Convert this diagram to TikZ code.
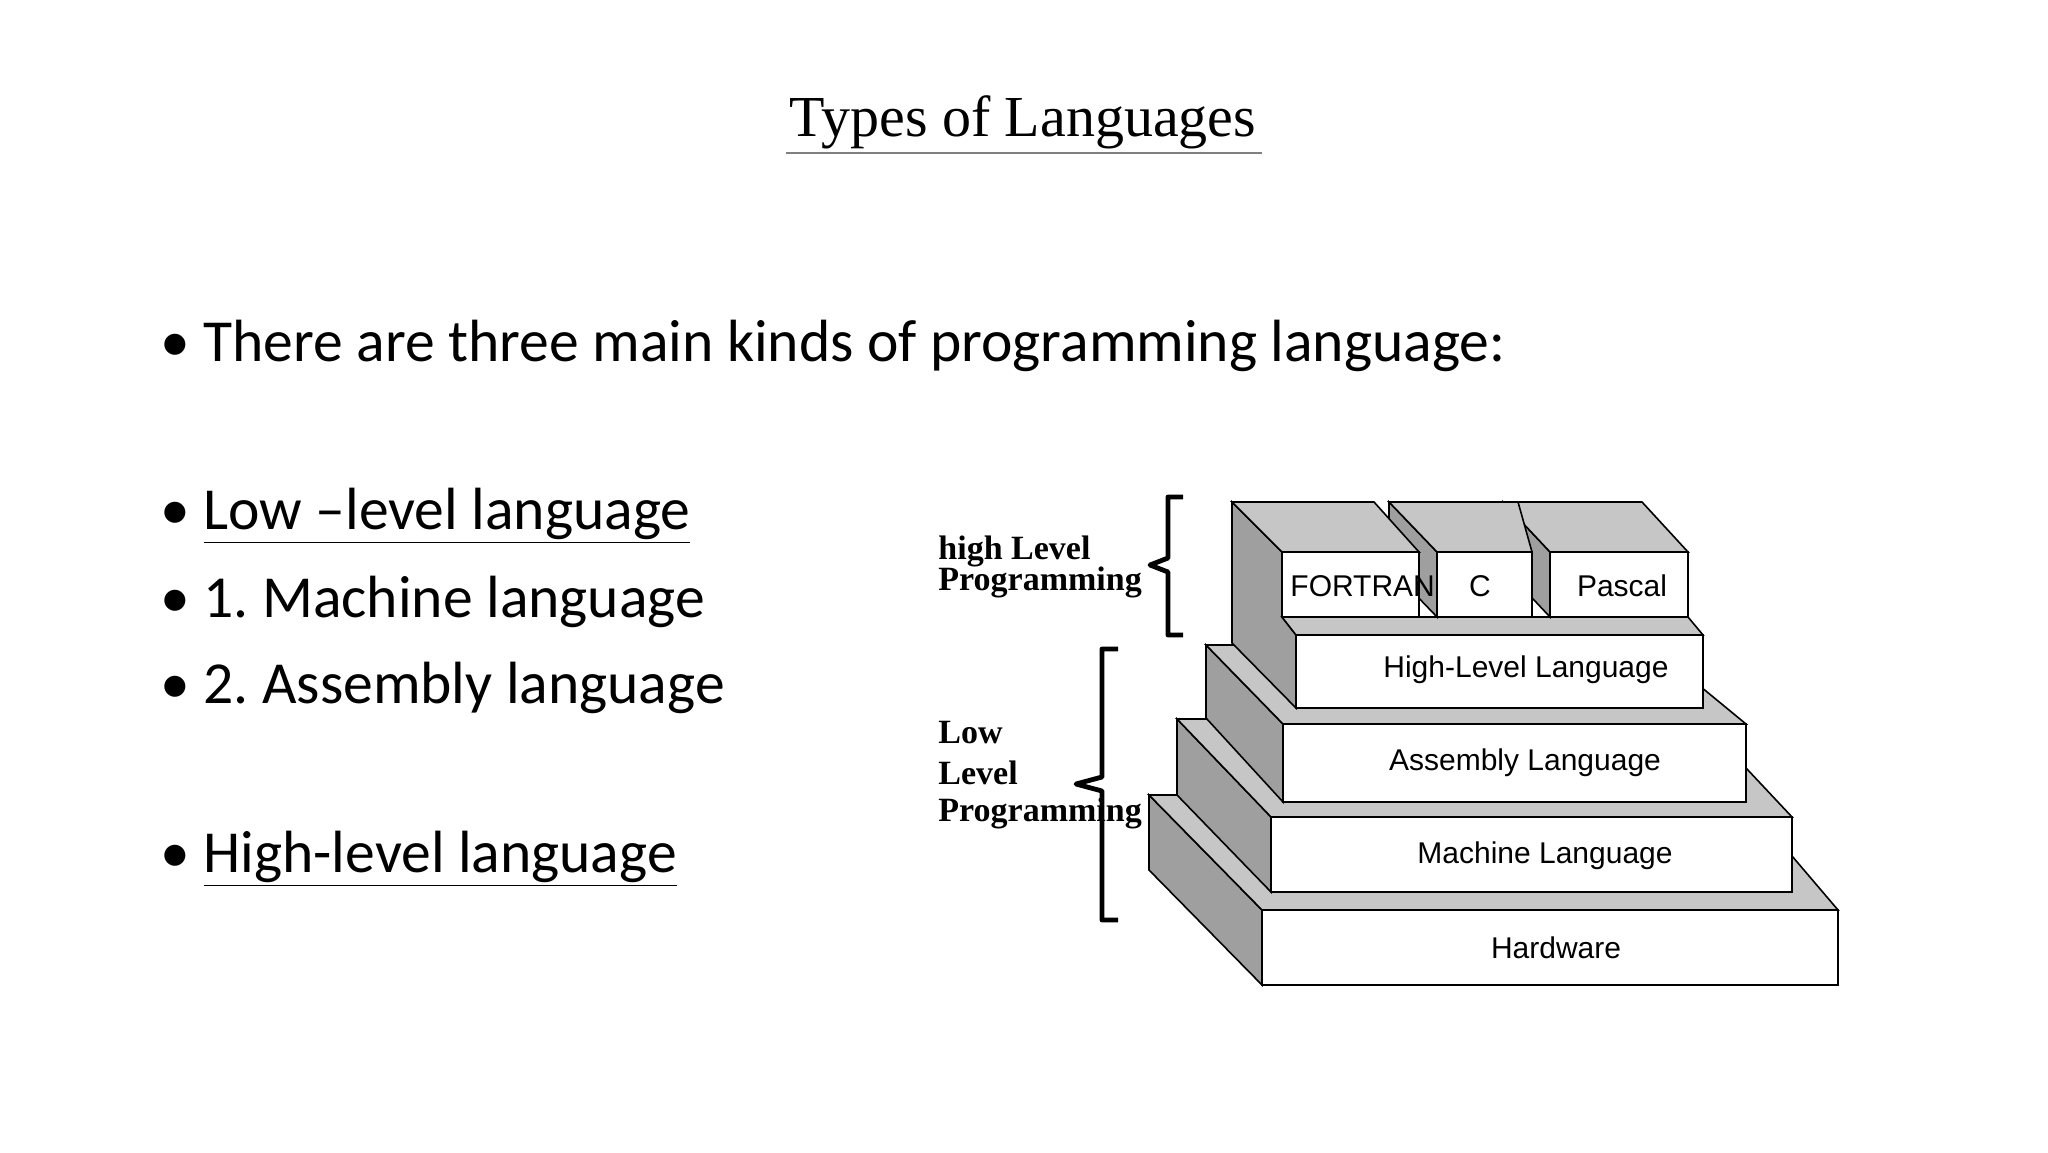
\documentclass[tikz,border=0pt]{standalone}
\usepackage{fontspec}
\setmainfont{Carlito}
\newfontfamily\titlefont{Liberation Serif}
\newfontfamily\lblfont{Liberation Serif}
\newfontfamily\boxfont{Liberation Sans}
\frenchspacing
\begin{document}
\begin{tikzpicture}[x=0.5pt,y=-0.5pt,
  side/.style={fill=gray!75,draw=black,line width=0.8pt},
  topf/.style={fill=gray!45,draw=black,line width=0.8pt},
  front/.style={fill=white,draw=black,line width=0.8pt},
  bul/.style={anchor=west,font=\fontsize{29.8}{34}\selectfont,inner sep=0},
  blbl/.style={font=\boxfont\fontsize{15}{17}\selectfont},
  side lbl/.style={font=\lblfont\bfseries\fontsize{17}{20}\selectfont,anchor=west,inner sep=0,align=left},
  brace/.style={line width=2.4pt,line join=round}]
\fill[white] (0,0) rectangle (2048,1152);
\useasboundingbox (0,0) rectangle (2048,1152);
% title
\node (title) at (1023,122) {\titlefont\fontsize{29}{34}\selectfont Types of Languages};
\draw[gray,line width=0.6pt] (786,153) -- (1262,153);
% bullets
\node[bul] (b1) at (160,346) {\textbullet\ There are three main kinds of programming language:};
\node[bul] (b2) at (160,516) {\textbullet\ \underline{Low –level language}};
\node[bul] (b3) at (160,602) {\textbullet\ 1. Machine language};
\node[bul] (b4) at (160,688) {\textbullet\ 2. Assembly language};
\node[bul] (b5) at (160,859) {\textbullet\ \underline{High-level language}};
% hardware
\draw[side] (1149,795) -- (1149,870) -- (1262,985) -- (1262,910) -- cycle;
\draw[topf] (1149,795) -- (1740,795) -- (1838,910) -- (1262,910) -- cycle;
\draw[front] (1262,910) rectangle (1838,985);
\node[blbl] (hw) at (1556,948) {Hardware};
% machine
\draw[side] (1177,719) -- (1177,795) -- (1271,892) -- (1271,817) -- cycle;
\draw[topf] (1177,719) -- (1700,719) -- (1792,817) -- (1271,817) -- cycle;
\draw[front] (1271,817) rectangle (1792,892);
\node[blbl] (ml) at (1545,856) {Machine Language};
% assembly
\draw[side] (1206,645) -- (1206,718) -- (1283,802) -- (1283,724) -- cycle;
\draw[topf] (1206,645) -- (1650,645) -- (1746,724) -- (1283,724) -- cycle;
\draw[front] (1283,724) rectangle (1746,802);
\node[blbl] (al) at (1525,763) {Assembly Language};
% high-level
\draw[side] (1232,502) -- (1282,552) -- (1282,617) -- (1296,635) -- (1296,708) -- (1232,643) -- cycle;
\draw[topf] (1282,617) -- (1688,617) -- (1703,635) -- (1296,635) -- cycle;
\draw[front] (1296,635) rectangle (1703,708);
\node[blbl] (hl) at (1526,670) {High-Level Language};
% pascal
\draw[side] (1503,502) -- (1550,552) -- (1550,617) -- (1503,567) -- cycle;
\draw[topf] (1503,502) -- (1642,502) -- (1688,552) -- (1550,552) -- cycle;
\draw[front] (1550,552) rectangle (1688,617);
\node[blbl] (pa) at (1622,586) {Pascal};
% C
\draw[side] (1389,502) -- (1437,552) -- (1437,617) -- (1389,567) -- cycle;
\draw[topf] (1389,502) -- (1518,502) -- (1532,552) -- (1437,552) -- cycle;
\draw[front] (1437,552) rectangle (1532,617);
\node[blbl] (cc) at (1480,586) {C};
% fortran
\draw[topf] (1232,502) -- (1374,502) -- (1419,552) -- (1282,552) -- cycle;
\draw[front] (1282,552) rectangle (1419,617);
\node[blbl,anchor=west,inner sep=0] (fo) at (1290,586) {FORTRAN};
% braces
\draw[brace] (1183,497) -- (1168,497) -- (1168,558) -- (1150,565) -- (1168,572) -- (1168,635) -- (1183,635);
\draw[brace] (1118,649) -- (1102,649) -- (1102,777) -- (1076,784) -- (1102,791) -- (1102,920) -- (1118,920);
% side labels
\node[side lbl] (hlp) at (938,551) {high Level};
\node[side lbl] (hlp2) at (938,582) {Programming};
\node[side lbl] (llp1) at (938,733) {Low};
\node[side lbl] (llp2) at (938,773) {Level};
\node[side lbl] (llp3) at (938,813) {Programming};
\end{tikzpicture}
\end{document}
